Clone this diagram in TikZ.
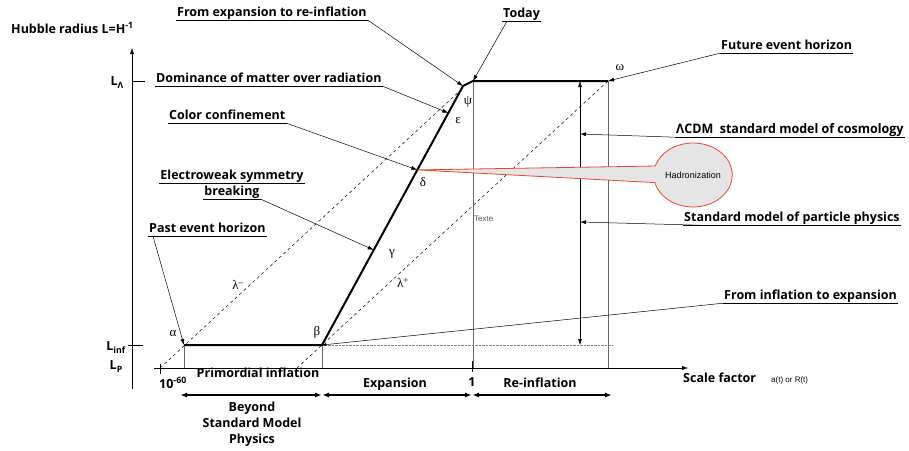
\documentclass[tikz,border=0pt]{standalone}
\usepackage{fontspec}
\setmainfont{Open Sans}
\newfontfamily\helv{Liberation Sans}
\newfontfamily\grecfont{Liberation Serif}
\usetikzlibrary{calc,arrows.meta,shapes.callouts}

\definecolor{rougebord}{RGB}{232,72,48}

\tikzset{
  etiq/.style={font=\bfseries\fontsize{12.5}{15}\selectfont, inner sep=1pt, text depth=3pt},
  grec/.style={font=\grecfont\fontsize{13}{15}\selectfont, inner sep=0pt},
  renvoi/.style={-{Latex[length=6pt,width=4pt]}, line width=0.5pt},
  fin/.style={line width=0.4pt, gray!80!black},
}

\begin{document}
\begin{tikzpicture}[x=1pt, y=-1pt]
\useasboundingbox (0,0) rectangle (909,450);

% Niveaux et abscisses
\def\yL{81}    % niveau L_Lambda
\def\yI{345}   % niveau L_inf
\def\yA{368}   % axe des abscisses
\def\xO{132}   % axe vertical

% ==============================================
% 1. AXES
% ==============================================
\coordinate (O1) at (\xO,389);
\coordinate (O2) at (\xO,48);
\coordinate (A1) at (154,\yA);
\coordinate (A2) at (688,\yA);
\draw[-{Latex[length=6pt,width=4pt]}] (O1) -- (O2);
\draw[-{Latex[length=6pt,width=4pt]}] (A1) -- (A2);

\draw (\xO,\yL) -- (145,\yL);
\draw (128,\yI) -- (143,\yI);
\draw (160,364) -- (160,374);
\draw[line width=1pt] (472,361) -- (472,372);

\node[etiq, anchor=base west] (hubble) at (10,33) {Hubble radius L=H\textsuperscript{-1}};
\node[etiq, anchor=east] (LL) at (125,83) {L\textsubscript{Λ}};
\node[etiq, anchor=east] (Linf) at (127,348) {L\textsubscript{inf}};
\node[etiq, anchor=east] (LP) at (124,367) {L\textsubscript{P}};
\node[etiq, anchor=base west] (dix) at (158,388) {10\textsuperscript{-60}};
\node[etiq, anchor=base] (un) at (472,386) {1};
\node[etiq, anchor=base west] (scale) at (682,382) {Scale factor};
\node[anchor=base west, font=\helv\fontsize{8}{10}\selectfont, inner sep=1pt] (at) at (770,382) {a(t) or R(t)};

% ==============================================
% 2. COURBE DU RAYON DE HUBBLE
% ==============================================
\coordinate (alpha) at (184,\yI);
\coordinate (beta) at (322,\yI);
\coordinate (psi) at (463,86);
\coordinate (ptoday) at (473,\yL);
\coordinate (omega) at (608,\yL);
\coordinate (eps) at ($(beta)!0.896!(psi)$);
\coordinate (delta) at ($(beta)!0.676!(psi)$);
\coordinate (gamma) at ($(beta)!0.367!(psi)$);

% Verticales fines jusqu'a l'axe
\foreach \p in {alpha, beta, ptoday, omega}
  \draw[fin] (\p) -- (\p |- A1);

% Pointilles au niveau L_inf
\coordinate (finI) at (612,\yI);
\draw[densely dotted, gray] (beta) -- (finI);

% Horizons lambda- et lambda+
\coordinate (lamMa) at (160,\yA);
\coordinate (lamMb) at (463,88);
\coordinate (lamPa) at (297,\yA);
\draw[dashed, line width=0.5pt] (lamMa) -- (lamMb);
\draw[dashed, line width=0.5pt] (lamPa) -- (omega);

\draw[line width=2pt, line join=round] (alpha) -- (beta) -- (psi) -- (ptoday) -- (omega);

% Lettres grecques
\foreach \n/\l/\x/\y in {a/α/173/333, b/β/317/332, g/γ/392/254, d/δ/423/182,
                         e/ε/458/120, p/ψ/468/102, o/ω/620/68,
                         lm/λ\textsuperscript{–}/238/285, lp/λ\textsuperscript{+}/403/283}
  \node[grec] (g-\n) at (\x,\y) {\l};

% ==============================================
% 3. MODELES STANDARD ET HADRONISATION
% ==============================================
\coordinate (M1) at (580,\yL);
\coordinate (M2) at (580,\yI);
\coordinate (Mc) at (580,134);
\coordinate (Ms) at (580,222);
\draw[{Latex[length=6pt,width=4pt]}-{Latex[length=6pt,width=4pt]}, line width=0.5pt] (M1) -- (M2);

\node[ellipse callout, draw=rougebord, line width=0.8pt, fill=gray!20,
      minimum width=78pt, minimum height=64pt, inner sep=0pt,
      callout absolute pointer=(delta), callout pointer arc=30,
      font=\helv\fontsize{9}{11}\selectfont] (hadro) at (693,175) {Hadronization};

\node[anchor=base west, font=\helv\fontsize{8}{10}\selectfont, text=gray!70!black, inner sep=1pt] (texte) at (473,221) {Texte};

% ==============================================
% 4. ETIQUETTES SOULIGNEES ET RENVOIS
% ==============================================
\node[etiq, anchor=base west] (expre) at (176,16) {From expansion to re-inflation};
\node[etiq, anchor=base west] (today) at (502,17) {Today};
\node[etiq, anchor=base west] (future) at (720,49) {Future event horizon};
\node[etiq, anchor=base west] (domin) at (155,82) {Dominance of matter over radiation};
\node[etiq, anchor=base west] (color) at (168,119) {Color confinement};
\node[etiq, anchor=base] (ew) at (232,179) {Electroweak symmetry};
\node[etiq, anchor=base] (breaking) at (232,195) {breaking};
\node[etiq, anchor=base west] (past) at (148,232) {Past event horizon};
\node[etiq, anchor=base west] (lcdm) at (675,133) {\scalebox{1.0}[1.05]{ΛCDM\ \ standard model of cosmology}};
\node[etiq, anchor=base west] (spp) at (683,221) {Standard model of particle physics};
\node[etiq, anchor=base west] (fie) at (723,299) {From inflation to expansion};

\foreach \n in {expre, today, future, domin, color, ew, breaking, past, lcdm, spp, fie}
  \draw[line width=0.6pt] (\n.south west) -- (\n.south east);

\draw[renvoi] (expre.south east) -- (psi);
\draw[renvoi] ($(today.south west)+(5,0)$) -- (ptoday);
\draw[renvoi] (future.south west) -- (omega);
\draw[renvoi] (domin.south east) -- (eps);
\draw[renvoi] (color.south east) -- (delta);
\draw[renvoi] (breaking.south east) -- (gamma);
\draw[renvoi] ($(past.south west)+(5,0)$) -- (alpha);
\draw[renvoi] (lcdm.south west) -- (Mc);
\draw[renvoi] ($(spp.south west)+(17,0)$) -- (Ms);
\draw[-{Latex[length=4pt,width=3pt]}, line width=0.5pt] (fie.south west) -- (beta);

% ==============================================
% 5. EPOQUES SOUS L'AXE
% ==============================================
\node[etiq, anchor=base] (primo) at (258,377) {Primordial inflation};
\node[etiq, anchor=base] (expan) at (395,387) {Expansion};
\node[etiq, anchor=base] (reinf) at (540,387) {Re-inflation};
\node[etiq, anchor=north, align=center, font=\bfseries\fontsize{12.5}{16}\selectfont] (beyond) at (252,401)
  {Beyond\\Standard Model\\Physics};

\foreach \x [count=\i] in {180,322,472,612}
  \coordinate (B\i) at (\x,395);
\foreach \i/\j in {1/2, 2/3, 3/4}
  \draw[{Latex[length=7pt,width=5pt]}-{Latex[length=7pt,width=5pt]}, line width=1.5pt] (B\i) -- (B\j);

\end{tikzpicture}
\end{document}
